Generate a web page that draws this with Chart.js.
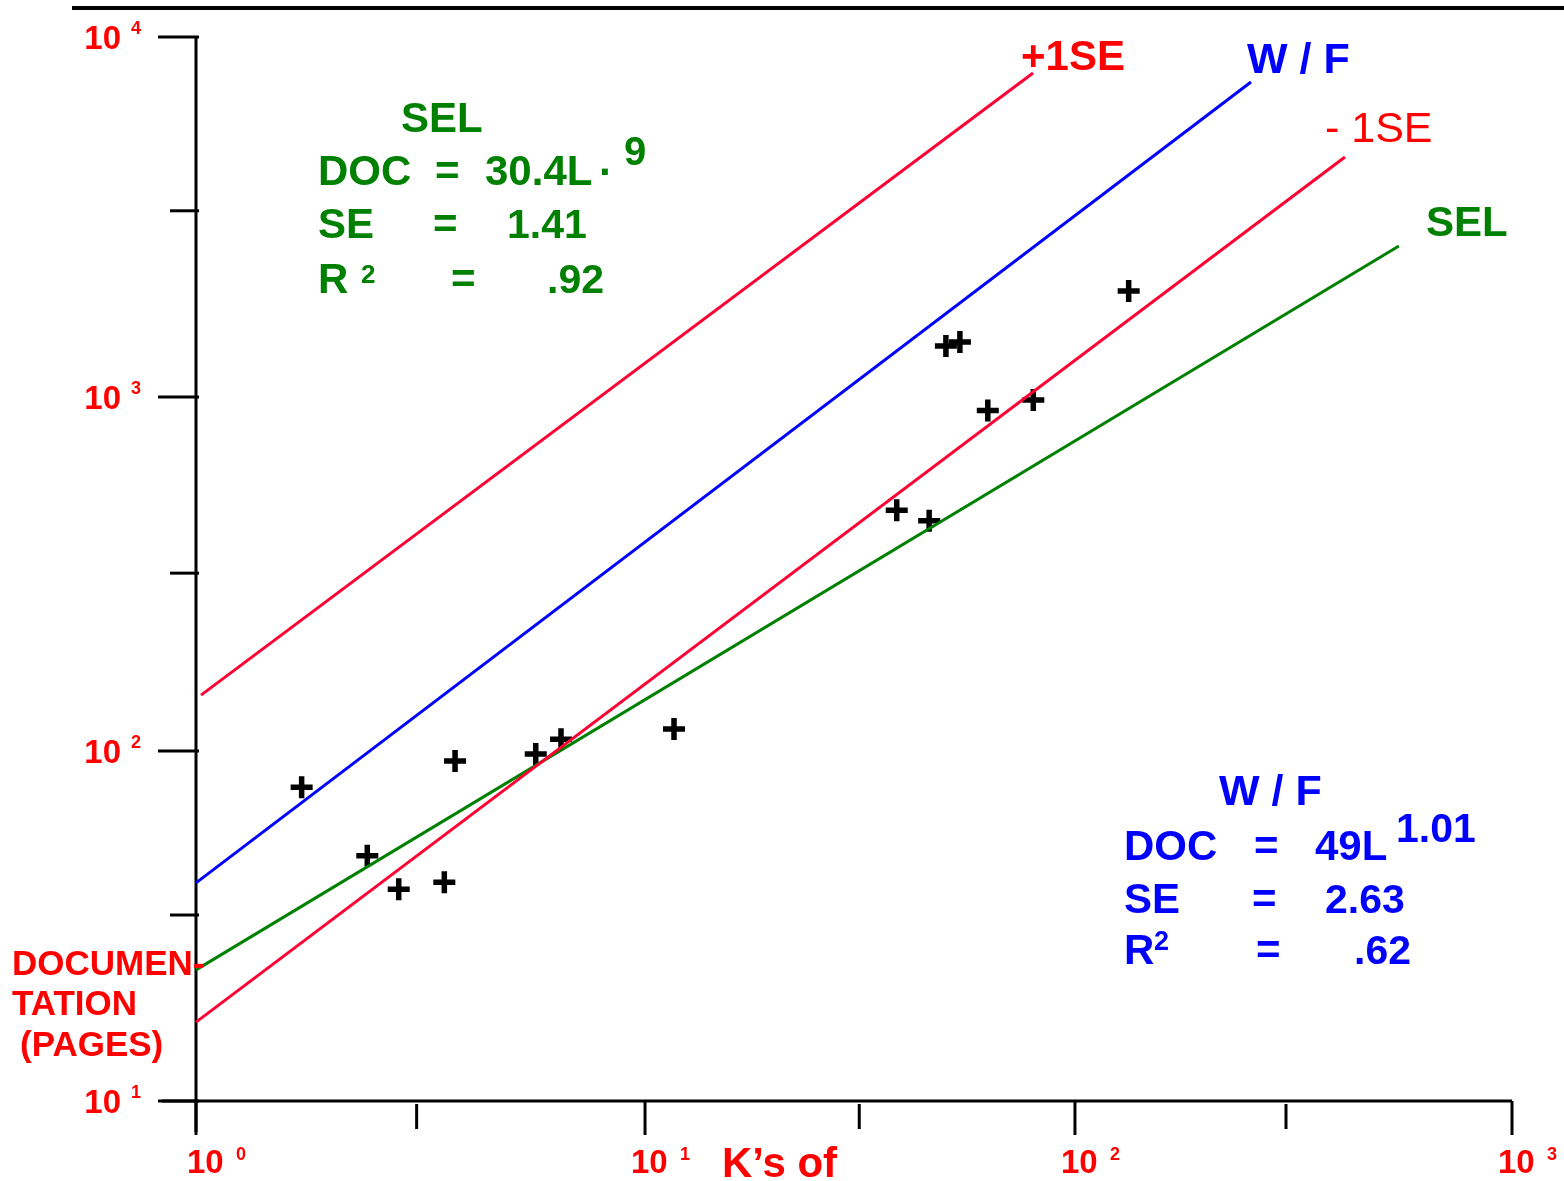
<!DOCTYPE html>
<html>
<head>
<meta charset="utf-8">
<script src="https://cdn.jsdelivr.net/npm/chart.js@4/dist/chart.umd.min.js"></script>
<style>
    html, body { margin:0; padding:0; background:#fff; }
    canvas { display:block; }
</style>
</head>
<body>
<canvas id="doc_chart" width="1564" height="1181"></canvas>
<script>
// 측정값 (K's of 코드, 문서 페이지 수)
const docKs    = [1.719, 2.407, 2.828, 3.573, 3.775, 5.71, 6.50, 11.68, 38.5, 45.8, 50.1, 54.0, 62.7, 80.0, 132.7];
const docPages = [78.8, 50.2, 40.3, 42.2, 93.6, 98.0, 107.9, 115.4, 479, 447, 1386, 1421, 915, 980, 1970];

// 회귀선 양 끝점
const plusSeKs    = [1.026, 79.9];
const plusSePages = [143.9, 7943];
const wfKs        = [1, 252.8];
const wfPages     = [42.0, 7499];
const minusSeKs    = [1, 414.8];
const minusSePages = [16.8, 4642];
const selKs    = [1, 551];
const selPages = [23.7, 2627];

// 축 눈금
const xMajor = [1, 10, 100, 1000];
const xMajorExp = ["0", "1", "2", "3"];
const xMinor = [3.1, 31.5, 304];
const yMajor = [10, 100, 1000, 10000];
const yMajorExp = ["1", "2", "3", "4"];
const yMinor = [34, 318, 3290];

const RED = "#ff0000";
const LINE_RED = "#ff0033";
const BLUE = "#0000ff";
const GREEN = "#008000";
const FONT = "Arial, 'Liberation Sans', sans-serif";

// 원본 그림의 10진 눈금 간격이 조금씩 달라서, 로그 스케일을 구간별로 늘려줌
class WarpedLogScale extends Chart.LogarithmicScale {
    decimalFor(value){
        const knots = this.options.knots;
        let t = Math.log10(value) - Math.log10(this.min);
        let i = Math.max(0, Math.min(knots.length - 2, Math.floor(t)));
        return knots[i] + (knots[i+1] - knots[i]) * (t - i);
    }
    getPixelForValue(value){
        if(value === undefined || value === null || value <= 0) return NaN;
        return this.getPixelForDecimal(this.decimalFor(value));
    }
    getValueForPixel(pixel){
        const knots = this.options.knots;
        let d = this.getDecimalForPixel(pixel);
        let i = 0;
        while(i < knots.length - 2 && d > knots[i+1]) i++;
        let t = i + (d - knots[i]) / (knots[i+1] - knots[i]);
        return Math.pow(10, Math.log10(this.min) + t);
    }
}
WarpedLogScale.id = "warpedLog";
WarpedLogScale.defaults = Chart.LogarithmicScale.defaults;
Chart.register(WarpedLogScale);

function toXY(xs, ys){
    let arr = new Array();
    for(let i=0; i<xs.length; i++){
        arr.push({x:xs[i], y:ys[i]});
    }
    return arr;
}

function txt(ctx, s, x, y, size, color, bold, align){
    ctx.font = (bold ? "bold " : "") + size + "px " + FONT;
    ctx.fillStyle = color;
    ctx.textAlign = align || "left";
    ctx.textBaseline = "alphabetic";
    ctx.fillText(s, x, y);
}

function segment(ctx, x1, y1, x2, y2){
    ctx.beginPath();
    ctx.moveTo(x1, y1);
    ctx.lineTo(x2, y2);
    ctx.stroke();
}

// 축과 눈금을 직접 그림
const axesPlugin = {
    id:"docAxes",
    beforeDatasetsDraw(chart){
        const ctx = chart.ctx;
        const xs = chart.scales.x, ys = chart.scales.y;
        const x0 = xs.getPixelForValue(1), y0 = ys.getPixelForValue(10);
        const yTop = ys.getPixelForValue(10000), xEnd = xs.getPixelForValue(1000);
        ctx.save();
        ctx.strokeStyle = "#000";
        ctx.lineCap = "butt";

        // 위쪽 테두리 선
        ctx.lineWidth = 4;
        segment(ctx, 72, 8, 1564, 8);

        ctx.lineWidth = 3;
        segment(ctx, x0, yTop, x0, y0 + 31);
        segment(ctx, x0 - 34, y0, xEnd, y0);

        for(let i=0; i<yMajor.length; i++){
            let py = ys.getPixelForValue(yMajor[i]);
            segment(ctx, x0 - 38, py, x0 + 3, py);
        }
        for(let i=0; i<yMinor.length; i++){
            let py = ys.getPixelForValue(yMinor[i]);
            segment(ctx, x0 - 26, py, x0 + 3, py);
        }
        for(let i=0; i<xMajor.length; i++){
            let px = xs.getPixelForValue(xMajor[i]);
            segment(ctx, px, y0, px, y0 + 34);
        }
        for(let i=0; i<xMinor.length; i++){
            let px = xs.getPixelForValue(xMinor[i]);
            segment(ctx, px, y0 + 3, px, y0 + 28);
        }
        ctx.restore();
    },
    afterDraw(chart){
        const ctx = chart.ctx;
        const xs = chart.scales.x, ys = chart.scales.y;
        ctx.save();

        // 눈금 라벨
        for(let i=0; i<yMajor.length; i++){
            let py = ys.getPixelForValue(yMajor[i]);
            txt(ctx, "10", 121, py + 12, 33, RED, true, "right");
            txt(ctx, yMajorExp[i], 131, py - 3, 18, RED, true);
        }
        for(let i=0; i<xMajor.length; i++){
            let px = xs.getPixelForValue(xMajor[i]);
            let left = (i == 0) ? px - 9 : px - 14;
            txt(ctx, "10", left, 1173, 33, RED, true);
            txt(ctx, xMajorExp[i], left + 49, 1160, 18, RED, true);
        }

        // 축 제목
        txt(ctx, "K\u2019s of", 722, 1177, 42, RED, true);
        txt(ctx, "DOCUMEN-", 12, 975, 35, RED, true);
        txt(ctx, "TATION", 12, 1015, 35, RED, true);
        txt(ctx, "(PAGES)", 20, 1056, 35, RED, true);

        // 선 라벨
        txt(ctx, "+1SE", 1021, 70, 42, RED, true);
        txt(ctx, "W / F", 1247, 73, 43, BLUE, true);
        txt(ctx, "- 1SE", 1325, 142, 43, RED, false);
        txt(ctx, "SEL", 1426, 236, 42, GREEN, true);

        // SEL 회귀식
        txt(ctx, "SEL", 401, 132, 42, GREEN, true);
        txt(ctx, "DOC", 318, 185, 42, GREEN, true);
        txt(ctx, "=", 435, 185, 42, GREEN, true);
        txt(ctx, "30.4L", 485, 185, 42, GREEN, true);
        txt(ctx, "\u00b7", 599, 186, 42, GREEN, true);
        txt(ctx, "9", 624, 165, 40, GREEN, true);
        txt(ctx, "SE", 318, 238, 42, GREEN, true);
        txt(ctx, "=", 433, 238, 42, GREEN, true);
        txt(ctx, "1.41", 507, 238, 41, GREEN, true);
        txt(ctx, "R", 318, 293, 42, GREEN, true);
        txt(ctx, "2", 361, 283, 26, GREEN, true);
        txt(ctx, "=", 451, 293, 42, GREEN, true);
        txt(ctx, ".92", 547, 293, 41, GREEN, true);

        // W/F 회귀식
        txt(ctx, "W / F", 1219, 805, 43, BLUE, true);
        txt(ctx, "DOC", 1124, 860, 42, BLUE, true);
        txt(ctx, "=", 1254, 860, 42, BLUE, true);
        txt(ctx, "49L", 1315, 860, 42, BLUE, true);
        txt(ctx, "1.01", 1396, 842, 41, BLUE, true);
        txt(ctx, "SE", 1124, 913, 42, BLUE, true);
        txt(ctx, "=", 1252, 913, 42, BLUE, true);
        txt(ctx, "2.63", 1325, 913, 41, BLUE, true);
        txt(ctx, "R", 1124, 964, 42, BLUE, true);
        txt(ctx, "2", 1154, 950, 27, BLUE, true);
        txt(ctx, "=", 1256, 964, 42, BLUE, true);
        txt(ctx, ".62", 1354, 964, 41, BLUE, true);

        ctx.restore();
    }
};

function lineSet(xs, ys, color){
    return {
        data:toXY(xs, ys),
        showLine:true,
        borderColor:color,
        borderWidth:3,
        pointRadius:0,
        fill:false,
        clip:false
    };
}

let ctx1 = document.getElementById("doc_chart");
let doc_chart = new Chart(ctx1, {
    type:"scatter",
    plugins:[axesPlugin],
    data:{
        datasets:[
            lineSet(plusSeKs, plusSePages, LINE_RED),
            lineSet(wfKs, wfPages, BLUE),
            lineSet(minusSeKs, minusSePages, LINE_RED),
            lineSet(selKs, selPages, GREEN),
            {
                data:toXY(docKs, docPages),
                pointStyle:"cross",
                pointRadius:11,
                borderColor:"#000",
                borderWidth:5.5,
                showLine:false,
                clip:false
            }
        ]
    },
    options:{
        responsive:false,
        animation:false,
        devicePixelRatio:1,
        events:[],
        layout:{
            padding:{left:196, right:52, top:37, bottom:80}
        },
        plugins:{
            legend:{display:false},
            tooltip:{enabled:false}
        },
        scales:{
            // knots: 각 10진 구간 경계의 축 길이 비율
            x:{type:"warpedLog", min:1, max:1000, display:false, knots:[0, 0.3412, 0.6679, 1]},
            y:{type:"warpedLog", min:10, max:10000, display:false, knots:[0, 0.3289, 0.6617, 1]}
        }
    }
});
</script>
</body>
</html>
